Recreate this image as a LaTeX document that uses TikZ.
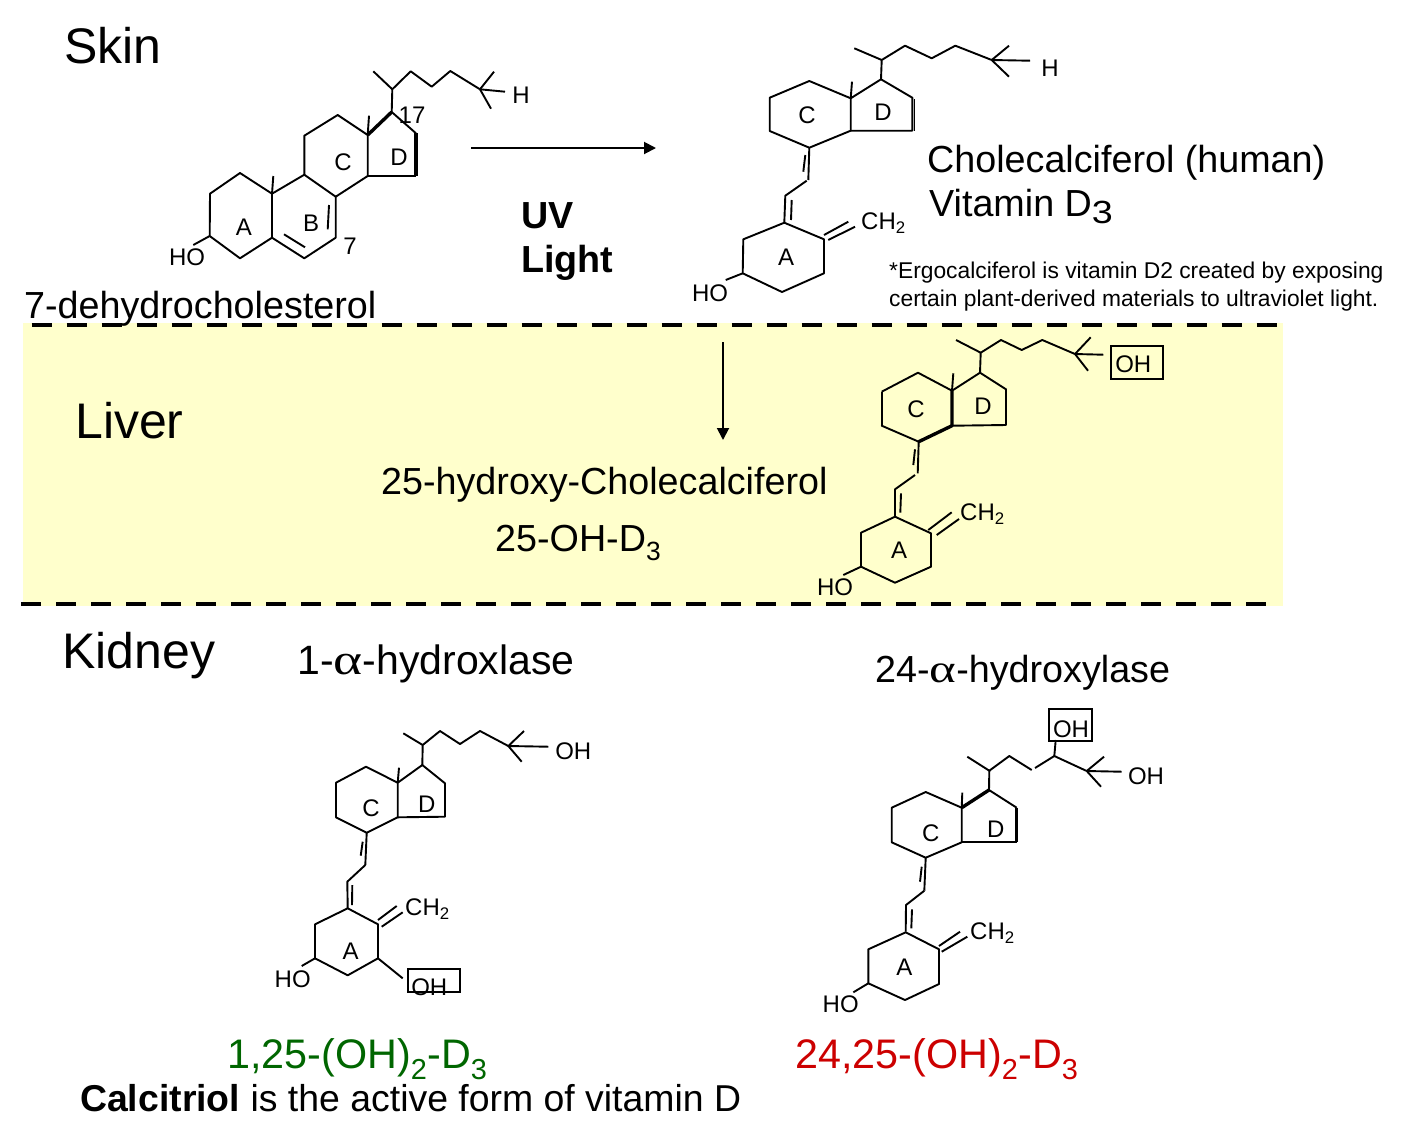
\documentclass[tikz,border=0pt]{standalone}
\usepackage{fontspec}
\setmainfont{Liberation Sans}
\usetikzlibrary{arrows.meta}
\newcommand{\fsz}[1]{\fontsize{#1}{#1}\selectfont}
\newcommand{\alphaglyph}{\scalebox{1.35}[1.05]{\fontspec{Liberation Serif}α}}
\definecolor{liveryellow}{HTML}{FFFFCC}
\definecolor{activegreen}{HTML}{006600}
\definecolor{inactivered}{HTML}{CC0000}
\tikzset{
	bond/.style={line width=1.9pt,line join=round},
	heavybond/.style={line width=3.4pt,line join=round},
	atomlabel/.style={inner sep=0pt,font=\fsz{24}},
	ringlabel/.style={inner sep=0pt,font=\fsz{24}},
	title/.style={anchor=base west,inner sep=0pt,font=\fsz{50}},
	caption/.style={anchor=base west,inner sep=0pt,font=\fsz{37.7}},
	notetext/.style={anchor=base west,inner sep=0pt,font=\fsz{22.8}},
	boxedgroup/.style={draw,line width=1.9pt},
	flowarrow/.style={line width=1.9pt,-{Triangle[length=12pt,width=12pt]}},
	border/.style={line width=4.6pt,dash pattern=on 20pt off 15pt}
}
\begin{document}
\begin{tikzpicture}[x=1pt,y=-1pt]
	\useasboundingbox (0,0) rectangle (1412,1144);
	\fill [liveryellow] (23,323) rectangle (1283,606);
	\coordinate (topl) at (31.7,325);
	\coordinate (topr) at (1277,325);
	\coordinate (botl) at (21.3,604);
	\coordinate (botr) at (1266.5,604);
	\draw [border] (topl)--(topr);
	\draw [border] (botl)--(botr);

	\node [title] (skin) at (64,63) {Skin};
	\node [title] (liver) at (75,438) {Liver};
	\node [title] (kidney) at (62,668) {Kidney};

	% 7-dehydrocholesterol
	\draw [bond] (209.7,236)--(210,193.7)--(240,173)--(272,193.7)--(272,237.7)--(240,258.3)--cycle;
	\draw [bond] (272,193.7)--(304.3,174.7)--(335.7,196.7)--(335.7,237.7)--(304.3,258.3)--(272,237.7);
	\draw [bond] (284,234.3)--(305,247.3);
	\draw [bond] (329,205)--(327.7,229.3);
	\draw [bond] (304.3,174.7)--(304.3,135.7)--(337.7,115)--(367.7,135)--(367.7,176)--(335.7,196.7);
	\draw [heavybond] (367.7,135)--(391.7,112);
	\draw [bond] (391.7,112)--(416,133.3);
	\draw [heavybond] (416,133.3)--(416,176);
	\draw [bond] (367.7,176)--(416,176);
	\draw [bond] (272,193.7)--(273.3,176);
	\draw [bond] (367.7,135)--(369,115.7);
	\draw [bond] (391.7,112)--(392.3,89.3)--(410.7,71.3)--(431.7,86.7)--(450.3,71)--(480,89.3);
	\draw [bond] (392.3,89.3)--(373.3,71.3);
	\draw [bond] (480,89.3)--(494,71.7);
	\draw [bond] (480,89.3)--(505,91.7);
	\draw [bond] (480,89.3)--(491,108.7);
	\draw [bond] (209.7,236)--(193.3,245);
	\node [atomlabel] (hoa) at (187,257) {HO};
	\node [atomlabel] (ha) at (521,95) {H};
	\node [ringlabel] (ringaa) at (244,227) {A};
	\node [ringlabel] (ringba) at (311,223) {B};
	\node [ringlabel] (ringca) at (343,162) {C};
	\node [ringlabel] (ringda) at (399,157) {D};
	\node [atomlabel] (seventeen) at (412,115) {17};
	\node [atomlabel] (seven) at (350,246) {7};
	\node [caption] (dehydro) at (24,318) {7-dehydrocholesterol};

	\coordinate (uvstart) at (471,148);
	\coordinate (uvend) at (656,148);
	\draw [flowarrow] (uvstart)--(uvend);
	\node [caption,font=\fsz{37.7}\bfseries] (uv) at (521,228) {UV};
	\node [caption,font=\fsz{37.7}\bfseries] (light) at (521,272) {Light};

	% cholecalciferol
	\draw [bond] (769.7,97.7)--(809.3,81)--(850.7,98.3)--(850.7,130.7)--(809.3,147.7)--(769.7,131)--cycle;
	\draw [bond] (850.7,98.3)--(881,79.3)--(912.3,97.7)--(912.3,130.7)--(850.7,130.7);
	\draw [bond] (914.5,99)--(914.5,130.7);
	\draw [bond] (850.7,98.3)--(852,81.7);
	\draw [bond] (881,79.3)--(881.7,60)--(905,45.7)--(931.7,58.3)--(955.3,45.7)--(991.7,60);
	\draw [bond] (881.7,60)--(854.3,48.3);
	\draw [bond] (991.7,60)--(1009,45.7);
	\draw [bond] (991.7,60)--(1030,60.7);
	\draw [bond] (991.7,60)--(1009,76.7);
	\draw [bond] (809.3,147.7)--(808.3,180);
	\draw [bond] (805.3,155)--(803.3,171.7);
	\draw [bond] (806.7,180.7)--(785.3,195.7)--(784.3,222.7);
	\draw [bond] (791.7,200)--(791,220);
	\draw [bond] (784.3,222.7)--(824,239.3)--(824,273.3)--(782,292)--(742.7,273.3)--(743.3,239.3)--cycle;
	\draw [bond] (824,235)--(848.3,221.7);
	\draw [bond] (828.3,240)--(855,226.7);
	\draw [bond] (742.7,273.3)--(725.7,280);
	\node [atomlabel] (hob) at (710,293) {HO};
	\node [atomlabel] (hb) at (1050,68) {H};
	\node [atomlabel,anchor=west] (chb) at (861,223) {CH\textsubscript{2}};
	\node [ringlabel] (ringab) at (786,257) {A};
	\node [ringlabel] (ringcb) at (807,115) {C};
	\node [ringlabel] (ringdb) at (883,112) {D};
	\node [caption] (chole) at (927,172) {Cholecalciferol (human)};
	\node [caption] (vitd) at (929,216) {Vitamin D\raisebox{-7pt}{\scalebox{1}[0.85]{3}}};
	\node [notetext] (notea) at (889,278) {*Ergocalciferol is vitamin D2 created by exposing};
	\node [notetext] (noteb) at (889,306) {certain plant-derived materials to ultraviolet light.};

	\coordinate (liverstart) at (723,342);
	\coordinate (liverend) at (723,440);
	\draw [flowarrow] (liverstart)--(liverend);

	% 25-hydroxy-cholecalciferol
	\draw [bond] (881.7,391.7)--(918,372.7)--(952,390.7);
	\draw [bond] (952,425.7)--(918.7,441.7);
	\draw [bond] (918.7,441.7)--(881.7,425.7)--cycle;
	\draw [heavybond] (952,390.7)--(952,425.7)--(918.7,441.7);
	\draw [bond] (952,390.7)--(980,372.7)--(1006,389.3)--(1006,425)--(952,425.7);
	\draw [bond] (952,390.7)--(953.3,373.3);
	\draw [bond] (980,372.7)--(980.7,352.7)--(1001,340)--(1021.7,350)--(1042.3,340)--(1075,354);
	\draw [bond] (980.7,352.7)--(956,340);
	\draw [bond] (1075,354)--(1090.7,337.3);
	\draw [bond] (1075,354)--(1103.3,354.7);
	\draw [bond] (1075,354)--(1088,370.7);
	\draw [bond] (881.7,391.7)--(881.7,425.7);
	\draw [bond] (918.7,441.7)--(917.7,473.3);
	\draw [bond] (915,449.3)--(913.3,465);
	\draw [bond] (915,475)--(895,489.3)--(895,516.7);
	\draw [bond] (901,493.3)--(900.3,512.7);
	\draw [bond] (895,516.7)--(931,533.3)--(931,566.7)--(895,582.7)--(861,566.7)--(861,532.7)--cycle;
	\draw [bond] (928.3,530)--(951.7,512.3);
	\draw [bond] (936.7,535)--(959,519);
	\draw [bond] (861,566.7)--(843.3,575);
	\draw [boxedgroup] (1110.7,345.7) rectangle (1163.3,379);
	\node [atomlabel] (ohc) at (1133.3,364.3) {OH};
	\node [atomlabel] (hoc) at (835,587) {HO};
	\node [atomlabel,anchor=west] (chc) at (960,514) {CH\textsubscript{2}};
	\node [ringlabel] (ringac) at (899,550) {A};
	\node [ringlabel] (ringcc) at (916,409) {C};
	\node [ringlabel] (ringdc) at (983,406) {D};
	\node [caption] (hydroxy) at (381,494) {25-hydroxy-Cholecalciferol};
	\node [caption] (ohdthree) at (495,551) {25-OH-D\textsubscript{3}};

	% 1,25-(OH)2-D3
	\node [caption,font=\fsz{41}] (onealpha) at (297,674) {1-\alphaglyph-hydroxlase};
	\draw [bond] (336,782.7)--(366,766.7)--(397.7,782.7)--(397.7,817.3)--(366.7,832.7)--(336,817.3)--cycle;
	\draw [bond] (397.7,782.7)--(422.3,765)--(445,783.3)--(445,816.7)--(397.7,817.3);
	\draw [bond] (397.7,782.7)--(399,767.7);
	\draw [bond] (422.3,765)--(422.7,745)--(440,731)--(460,744)--(480,731)--(508.3,746);
	\draw [bond] (422.7,745)--(403.3,733.3);
	\draw [bond] (508.3,746)--(524,731);
	\draw [bond] (508.3,746)--(548.3,746.7);
	\draw [bond] (508.3,746)--(521.7,761.7);
	\draw [bond] (366.7,832.7)--(365.3,865);
	\draw [bond] (362.7,841.7)--(360.7,855.7);
	\draw [bond] (365.3,865)--(347.3,881.7)--(347.7,908.3);
	\draw [bond] (352.3,885)--(352,905);
	\draw [bond] (347.7,908.3)--(378,924.3)--(378,958.3)--(347.7,975.3)--(315,958.3)--(315,924.3)--cycle;
	\draw [bond] (378,920)--(396.7,906);
	\draw [bond] (381.7,926.7)--(402.7,912.3);
	\draw [bond] (315,958.3)--(301.7,966);
	\draw [bond] (378,958.3)--(402.7,978.3);
	\draw [boxedgroup] (407.7,968.7) rectangle (460,992);
	\node [atomlabel] (ohd) at (429.3,987.3) {OH};
	\node [atomlabel] (ohe) at (573.3,751.7) {OH};
	\node [atomlabel] (hod) at (292.7,979.3) {HO};
	\node [atomlabel,anchor=west] (chd) at (405,909) {CH\textsubscript{2}};
	\node [ringlabel] (ringad) at (350.7,951.7) {A};
	\node [ringlabel] (ringcd) at (371,808.3) {C};
	\node [ringlabel] (ringdd) at (426.7,804.3) {D};
	\node [caption,text=activegreen,font=\fsz{41.3}] (calcitriolname) at (227,1068) {1,25-(OH)\textsubscript{2}-D\textsubscript{3}};
	\node [caption,font=\fsz{37.4}] (calcitriol) at (80,1111) {\textbf{Calcitriol} is the active form of vitamin D};

	% 24,25-(OH)2-D3
	\node [caption] (twentyfour) at (875,682) {24-\alphaglyph-hydroxylase};
	\draw [bond] (891.7,807.7)--(925.7,792)--(961.7,807.7)--(961.7,842.3)--(925.7,857.7)--(891.7,842.3)--cycle;
	\draw [heavybond] (961.7,807.7)--(989,790);
	\draw [bond] (989,790)--(1016.7,807.7);
	\draw [heavybond] (1016.7,807.7)--(1016.7,842.3);
	\draw [bond] (1016.7,842.3)--(961.7,842.3);
	\draw [bond] (961.7,807.7)--(962.3,792.7);
	\draw [bond] (989,790)--(989.3,770.7)--(1009.3,756)--(1031.7,770);
	\draw [bond] (1035,768)--(1054.3,756)--(1086.7,771);
	\draw [bond] (989.3,770.7)--(967.3,756.7);
	\draw [bond] (1054.3,756)--(1055.7,740);
	\draw [bond] (1086.7,771)--(1104,756.7);
	\draw [bond] (1086.7,771)--(1121.7,771.7);
	\draw [bond] (1086.7,771)--(1101,786.7);
	\draw [bond] (925.7,857.7)--(924.3,890.7);
	\draw [bond] (921.7,866.7)--(920,881.7);
	\draw [bond] (924.3,890.7)--(906,905)--(905.7,931.7);
	\draw [bond] (912,909.3)--(911.3,928.3);
	\draw [bond] (905.7,932.3)--(939,949.3)--(939,984)--(905,1000)--(868.3,983.3)--(868.3,949.3)--cycle;
	\draw [bond] (939,946)--(960,931.7);
	\draw [bond] (941.7,951.7)--(967.3,936.7);
	\draw [bond] (868.3,983.3)--(853.3,992.3);
	\draw [boxedgroup] (1048.7,709.3) rectangle (1091.7,740.7);
	\node [atomlabel] (ohf) at (1071,729.3) {OH};
	\node [atomlabel] (ohg) at (1146,776) {OH};
	\node [atomlabel] (hoe) at (840.7,1004) {HO};
	\node [atomlabel,anchor=west] (che) at (970,933) {CH\textsubscript{2}};
	\node [ringlabel] (ringae) at (904.3,967.7) {A};
	\node [ringlabel] (ringce) at (930.7,833.3) {C};
	\node [ringlabel] (ringde) at (995.7,829.3) {D};
	\node [caption,text=inactivered,font=\fsz{41.3}] (inactivename) at (795,1068) {24,25-(OH)\textsubscript{2}-D\textsubscript{3}};
\end{tikzpicture}
\end{document}
